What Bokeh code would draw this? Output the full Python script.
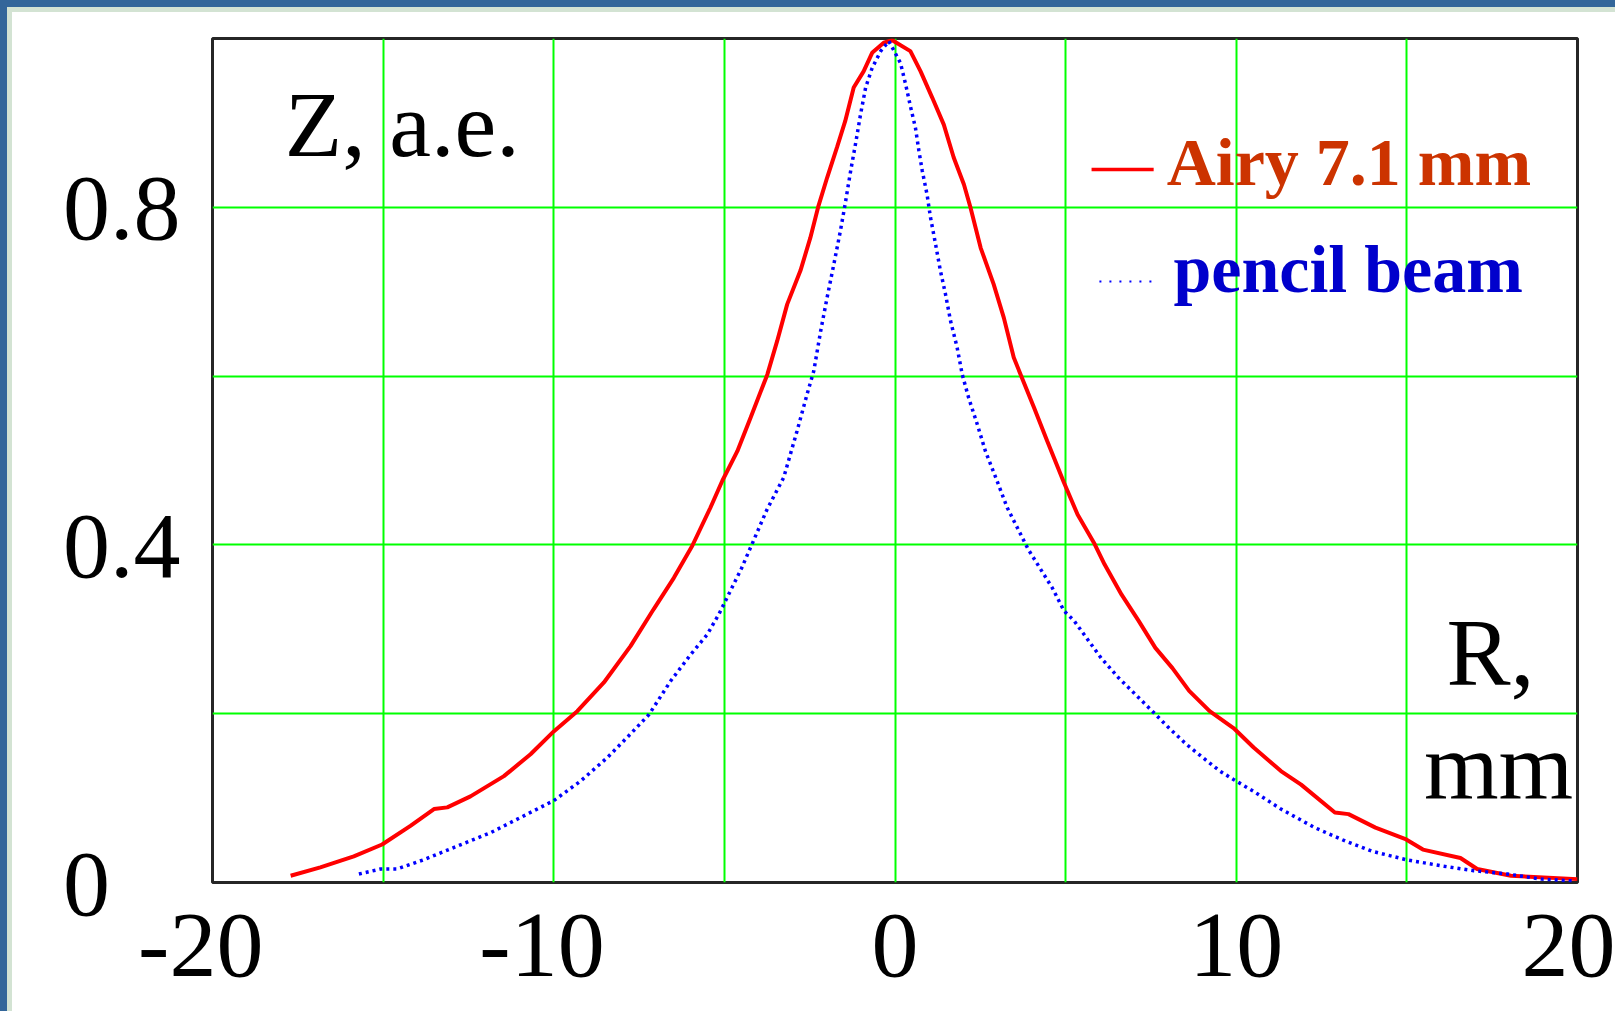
from bokeh.plotting import figure
from bokeh.models import FixedTicker, Label, Range1d
from bokeh.embed import file_html
from bokeh.resources import INLINE

# ---- data ----
airy_x = [-17.71, -16.84, -15.86, -15.03, -14.20, -13.51, -13.12, -12.44, -11.46, -10.68,
          -10.00, -9.31, -8.53, -7.75, -7.07, -6.48, -5.94, -5.41, -5.06, -4.62,
          -4.23, -3.74, -3.45, -3.16, -2.77, -2.48, -2.24, -1.99, -1.70, -1.46,
          -1.21, -0.92, -0.67, -0.33, -0.08, 0.45, 0.75, 1.09, 1.43, 1.72,
          2.02, 2.21, 2.51, 2.89, 3.19, 3.48, 3.68, 4.07, 4.46, 4.95,
          5.35, 5.85, 6.14, 6.64, 7.14, 7.63, 8.13, 8.62, 9.22, 9.92,
          10.51, 11.31, 11.90, 12.89, 13.29, 14.08, 14.98, 15.47, 16.57, 17.06,
          18.05, 20.0]
airy_y = [0.008, 0.018, 0.031, 0.045, 0.067, 0.087, 0.089, 0.102, 0.126, 0.152,
          0.179, 0.203, 0.237, 0.280, 0.324, 0.361, 0.399, 0.444, 0.476, 0.511,
          0.551, 0.602, 0.642, 0.685, 0.725, 0.764, 0.802, 0.835, 0.871, 0.902,
          0.942, 0.961, 0.983, 0.995, 0.998, 0.985, 0.961, 0.930, 0.898, 0.859,
          0.827, 0.800, 0.752, 0.709, 0.669, 0.622, 0.602, 0.563, 0.523, 0.474,
          0.436, 0.401, 0.377, 0.341, 0.310, 0.278, 0.254, 0.227, 0.203, 0.183,
          0.160, 0.132, 0.116, 0.083, 0.081, 0.065, 0.051, 0.039, 0.029, 0.016,
          0.008, 0.004]

pencil_x = [-15.71, -15.07, -14.59, -13.81, -12.83, -11.85, -10.78, -10.00, -9.22, -8.43,
            -7.75, -7.21, -6.57, -5.99, -5.50, -5.16, -4.50, -3.75, -3.26, -2.87,
            -2.58, -2.38, -2.18, -1.99, -1.79, -1.60, -1.46, -1.30, -1.14, -1.01,
            -0.86, -0.67, -0.42, -0.18, 0.16, 0.31, 0.45, 0.60, 0.70, 0.80,
            0.94, 1.04, 1.19, 1.33, 1.48, 1.63, 1.82, 1.97, 2.16, 2.41,
            2.65, 2.95, 3.29, 3.90, 4.61, 4.95, 5.25, 6.04, 6.54, 7.04,
            7.54, 8.03, 8.53, 9.02, 9.52, 9.92, 10.51, 11.31, 12.30, 13.20,
            13.98, 14.98, 15.97, 16.96, 17.95, 18.95, 19.84]
pencil_y = [0.010, 0.016, 0.016, 0.027, 0.043, 0.059, 0.081, 0.097, 0.120, 0.148,
            0.176, 0.199, 0.239, 0.270, 0.294, 0.318, 0.372, 0.442, 0.480, 0.535,
            0.578, 0.606, 0.653, 0.693, 0.733, 0.772, 0.804, 0.843, 0.879, 0.910,
            0.942, 0.965, 0.985, 0.997, 0.971, 0.946, 0.920, 0.894, 0.867, 0.843,
            0.815, 0.788, 0.756, 0.725, 0.697, 0.665, 0.634, 0.602, 0.574, 0.543,
            0.511, 0.480, 0.444, 0.395, 0.349, 0.322, 0.310, 0.266, 0.243, 0.223,
            0.203, 0.183, 0.164, 0.148, 0.132, 0.122, 0.108, 0.087, 0.065, 0.049,
            0.037, 0.027, 0.020, 0.014, 0.010, 0.004, 0.002]

x_ticks = [-20, -10, 0, 10, 20]
# the minus sign hangs to the left of the tick in the original: balance with a no-break space
x_tick_labels = ["-20\u00a0", "-10\u00a0", "0", "10", "20"]
x_grid = [-15, -10, -5, 0, 5, 10, 15]
y_ticks = [0, 0.4, 0.8]
# "0" is left-aligned with "0.8" in the original: pad with punctuation + figure space
y_tick_labels = ["0\u2008\u2007", "0.4", "0.8"]
y_grid = [0.2, 0.4, 0.6, 0.8]

series_names = ["Airy 7.1 mm", "pencil beam"]
y_title = "Z, a.e."
x_title_lines = ["R,", "mm"]

FONT = "Liberation Serif"

p = figure(frame_width=1365, frame_height=844,
           x_range=Range1d(-20, 20), y_range=Range1d(0, 1),
           output_backend="svg", toolbar_location=None,
           min_border_left=212, min_border_right=38,
           min_border_top=38, min_border_bottom=129)

p.border_fill_color = None
p.background_fill_color = "white"
p.styles = {"box-shadow": "inset 7px 7px 0 0 #33669a, inset 12px 12px 0 0 #d3e3d3",
            "background-color": "white"}
p.outline_line_color = "#262626"
p.outline_line_width = 3

# grid
p.xgrid.ticker = FixedTicker(ticks=x_grid)
p.ygrid.ticker = FixedTicker(ticks=y_grid)
p.grid.grid_line_color = "#00ff00"
p.grid.grid_line_width = 2
p.grid.grid_line_alpha = 1.0

# axes
p.xaxis.ticker = FixedTicker(ticks=x_ticks)
p.yaxis.ticker = FixedTicker(ticks=y_ticks)
p.xaxis.major_label_overrides = dict(zip(x_ticks, x_tick_labels))
p.yaxis.major_label_overrides = dict(zip(y_ticks, y_tick_labels))
for ax in (p.xaxis, p.yaxis):
    ax.axis_line_color = None
    ax.major_tick_line_color = None
    ax.minor_tick_line_color = None
    ax.major_tick_out = 0
    ax.major_tick_in = 0
    ax.major_label_text_font = FONT
    ax.major_label_text_font_size = "94px"
    ax.major_label_text_color = "black"
p.xaxis.major_label_standoff = 9
p.yaxis.major_label_standoff = 32

# curves
p.line(airy_x, airy_y, line_color="#ff0000", line_width=4)
p.line(pencil_x, pencil_y, line_color="#0000ff", line_width=3.5, line_dash="3 4")

# legend (manual)
p.segment(x0=[5.76], y0=[0.8448], x1=[7.58], y1=[0.8448], line_color="#ff0000", line_width=3.5)
p.segment(x0=[5.99], y0=[0.7121], x1=[7.72], y1=[0.7121], line_color="#0000ff", line_width=2, line_dash="2 8")
p.add_layout(Label(x=7.96, y=0.854, text=series_names[0], text_font=FONT, text_font_size="68px",
                   text_font_style="bold", text_color="#cc3300", text_baseline="alphabetic"))
p.add_layout(Label(x=8.16, y=0.727, text=series_names[1], text_font=FONT, text_font_size="68px",
                   text_font_style="bold", text_color="#0000cc", text_baseline="alphabetic"))

# axis titles inside plot
p.add_layout(Label(x=-17.88, y=0.899, text=y_title, text_font=FONT, text_font_size="94px",
                   text_color="black", text_baseline="alphabetic"))
p.add_layout(Label(x=16.16, y=0.273, text=x_title_lines[0], text_font=FONT, text_font_size="96px",
                   text_color="black", text_baseline="alphabetic"))
p.add_layout(Label(x=15.50, y=0.139, text=x_title_lines[1], text_font=FONT, text_font_size="96px",
                   text_color="black", text_baseline="alphabetic"))

open("out.html", "w").write(file_html(p, INLINE))
